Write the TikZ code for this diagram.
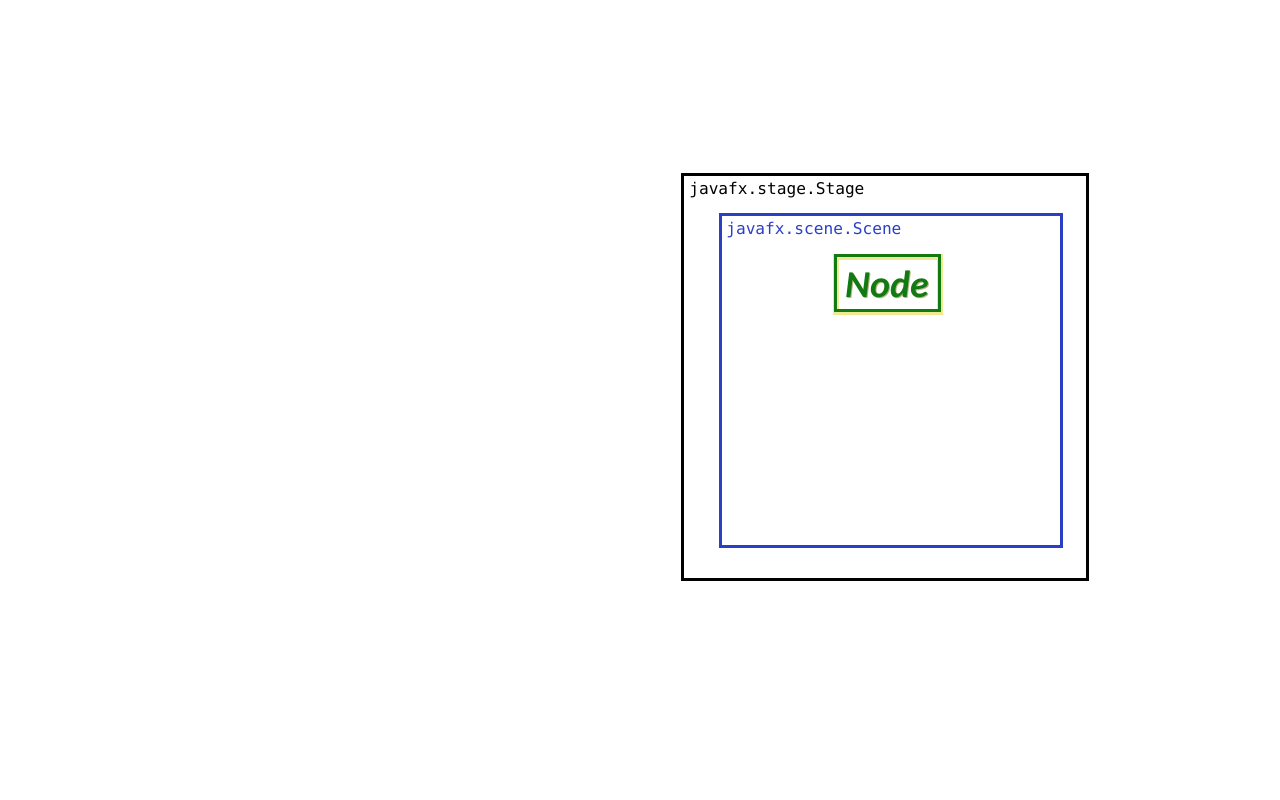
\documentclass[tikz,border=0pt]{standalone}
\usepackage{fontspec}
\setmainfont{Carlito}
\setmonofont{DejaVu Sans Mono}
\usepackage{xcolor}
\usetikzlibrary{positioning}

\definecolor{stageblack}{HTML}{000000}
\definecolor{sceneblue}{HTML}{2B3FC4}
\definecolor{nodegreen}{HTML}{127A12}
\definecolor{glowyellow}{HTML}{E8D84A}

\begin{document}
\begin{tikzpicture}

\useasboundingbox (0,0) rectangle (32,20);

\node[draw=stageblack, line width=2.13pt, minimum width=10.125cm, minimum height=10.125cm, inner sep=0pt] (stage) at (22.125,10.5625) {};
\node[draw=sceneblue, line width=2.13pt, minimum width=8.525cm, minimum height=8.3cm, inner sep=0pt] (scene) at (22.2625,10.4875) {};

\node[anchor=base west, inner sep=0pt, font=\ttfamily\fontsize{11.5}{14}\selectfont] (stagelabel) at (17.225,15.125) {javafx.stage.Stage};
\node[anchor=base west, inner sep=0pt, text=sceneblue, font=\ttfamily\fontsize{11.5}{14}\selectfont] (scenelabel) at (18.15,14.125) {javafx.scene.Scene};

\node[draw=glowyellow, line width=4.5pt, opacity=0.6, minimum width=2.6cm, minimum height=1.375cm, inner sep=0pt] (glow) at (22.2,12.89) {};
\node[draw=nodegreen, line width=2.13pt, minimum width=2.6cm, minimum height=1.375cm, inner sep=0pt] (node) at (22.175,12.9125) {};
\node[text=glowyellow!60!black, opacity=0.6, font=\bfseries\itshape\fontsize{27}{32}\selectfont] (nodeshadow) at (22.215,12.855) {Node};
\node[text=nodegreen, font=\bfseries\itshape\fontsize{27}{32}\selectfont] (nodelabel) at (22.175,12.9) {Node};

\end{tikzpicture}
\end{document}
